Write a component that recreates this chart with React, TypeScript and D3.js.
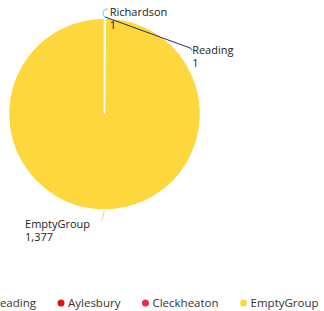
import React, { useEffect, useRef } from 'react';
import * as d3 from 'd3';

const categories = ['Richardson', 'Reading', 'Aylesbury', 'Cleckheaton', 'EmptyGroup'];
const values = [1, 1, 0, 0, 1377];
const colors = ['#67c2e6', '#2a2d5c', '#e0120f', '#ef2a4c', '#fdd73b'];

const W = 324;
const H = 311;

const App = () => {
  const svgRef = useRef<SVGSVGElement>(null);

  useEffect(() => {
    const svg = d3.select(svgRef.current);
    svg.selectAll('*').remove();

    const cx = 104.5;
    const cy = 114;
    const r = 96;
    const font = '"Lucida Grande", "Open Sans", sans-serif';

    const data = categories.map((c, i) => ({ name: c, value: values[i], color: colors[i] }));
    const pie = d3.pie<any>().sort(null).value(d => d.value);
    const arcs = pie(data);
    const arc = d3.arc<any>().innerRadius(0).outerRadius(r);

    const g = svg.append('g').attr('transform', `translate(${cx},${cy})`);
    g.selectAll('path')
      .data(arcs.filter(a => a.value > 0))
      .join('path')
      .attr('d', arc)
      .attr('fill', d => d.data.color)
      .attr('stroke', '#fff')
      .attr('stroke-width', 1.5);

    // label layout: offsets from the arc edge point
    const layout: Record<string, any> = {
      Richardson: { path: (x: number, y: number) => `M${x},${y}C${x - 3},${y - 3} ${x - 2},${y - 8} ${x + 3},${y - 8}`, tx: 5, ty: -1 },
      Reading: { path: (x: number, y: number) => `M${x},${y}L${x + 85},${y + 31}L${x + 87},${y + 33}`, tx: 87, ty: 37 },
      EmptyGroup: { path: (x: number, y: number) => `M${x},${y}C${x},${y + 4} ${x - 1},${y + 7} ${x - 3},${y + 10}`, tx: -79, ty: 17 },
    };

    arcs.filter(a => a.value > 0).forEach(a => {
      const mid = (a.startAngle + a.endAngle) / 2;
      const x = cx + Math.sin(mid) * (r + 1);
      const y = cy - Math.cos(mid) * (r + 1);
      const l = layout[a.data.name];
      svg.append('path')
        .attr('d', l.path(x, y))
        .attr('fill', 'none')
        .attr('stroke', a.data.color)
        .attr('stroke-width', 1);
      svg.append('text')
        .attr('x', x + l.tx)
        .attr('y', y + l.ty)
        .attr('font-family', font)
        .attr('font-size', 11)
        .attr('fill', '#222')
        .text(a.data.name);
      svg.append('text')
        .attr('x', x + l.tx)
        .attr('y', y + l.ty + 13)
        .attr('font-family', font)
        .attr('font-size', 11)
        .attr('fill', '#222')
        .text(d3.format(',')(a.value));
    });

    // legend
    const legend = svg.append('g');
    const items = legend.selectAll('g')
      .data(data)
      .join('g');
    items.append('circle').attr('r', 3.5).attr('cy', 0).attr('fill', d => d.color);
    const texts = items.append('text')
      .attr('x', 7)
      .attr('dy', '0.35em')
      .attr('font-family', font)
      .attr('font-size', 11.5)
      .attr('fill', '#333')
      .text(d => d.name);
    let pos = 0;
    const xs: number[] = [];
    texts.each(function () {
      xs.push(pos);
      pos += 7 + (this as SVGTextElement).getComputedTextLength() + 25;
    });
    const shift = 61 - xs[2];
    items.attr('transform', (d, i) => `translate(${xs[i] + shift},303)`);
  }, []);

  return (
    <svg ref={svgRef} width={W} height={H} style={{ position: 'absolute', left: 0, top: 0, background: '#fff' }} />
  );
};

export default App;
